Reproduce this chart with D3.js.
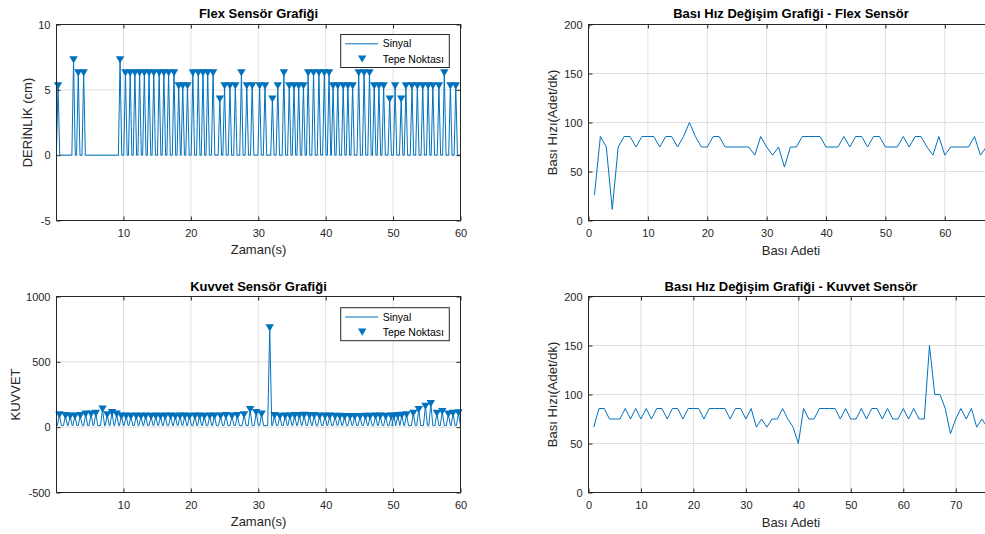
<!DOCTYPE html>
<html>
<head>
<meta charset="utf-8">
<script src="https://d3js.org/d3.v7.min.js"></script>
<style>
  body { margin: 0; background: #fff; }
  text { font-family: "Liberation Sans", Arial, Helvetica, sans-serif; }
</style>
</head>
<body>
<svg width="985" height="534"></svg>
<script>
// ---- data ----

// flex sensor: peak times (s) and peak depth (cm)
const flexPeakTimes = [
  0.3, 2.6, 3.3, 4.1, 9.5,
  10.3, 11.0, 11.7, 12.4, 13.1, 13.8, 14.5, 15.3, 16.0, 16.7, 17.5,
  18.2, 18.8, 19.5,
  20.3, 21.1, 21.8, 22.5, 23.3,
  24.3,
  25.0, 25.8, 26.6,
  27.5,
  28.3, 29.1, 30.2, 31.0,
  32.1, 32.9, 33.8,
  34.6, 35.3, 36.0, 36.7,
  37.4, 38.2, 39.0, 39.8, 40.5,
  41.1, 41.8, 42.6, 43.3, 44.0,
  44.9, 45.7, 46.5,
  47.2, 47.9, 48.6,
  49.5, 50.3, 51.2,
  51.9, 52.8, 53.6, 54.4, 55.2, 55.9, 56.8,
  57.6, 58.5, 59.3
];
const flexPeakValues = [
  5.3, 7.3, 6.3, 6.3, 7.3,
  6.3, 6.3, 6.3, 6.3, 6.3, 6.3, 6.3, 6.3, 6.3, 6.3, 6.3,
  5.3, 5.3, 5.3,
  6.3, 6.3, 6.3, 6.3, 6.3,
  4.3,
  5.3, 5.3, 5.3,
  6.3,
  5.3, 5.3, 5.3, 5.3,
  4.3, 5.3, 6.3,
  5.3, 5.3, 5.3, 5.3,
  6.3, 6.3, 6.3, 6.3, 6.3,
  5.3, 5.3, 5.3, 5.3, 5.3,
  6.3, 6.3, 6.3,
  5.3, 5.3, 5.3,
  4.3, 5.3, 4.3,
  5.3, 5.3, 5.3, 5.3, 5.3, 5.3, 5.3,
  6.3, 5.3, 5.3
];
const flexBase = 0;

// force sensor: peak times (s) and peak force
const kuvvetPeakTimes = [
  0.5, 1.4, 2.1, 2.8, 3.6, 4.4, 5.2, 5.9, 6.9, 7.6,
  8.3, 9.0, 9.7, 10.4, 11.1, 11.9, 12.6, 13.3, 14.1, 14.8,
  15.5, 16.2, 17.0, 17.7, 18.4, 19.1, 19.8, 20.6, 21.3, 22.0,
  22.8, 23.5, 24.4, 25.2, 26.1, 26.9, 27.9, 28.8, 29.7, 30.5,
  31.7, 32.4, 33.2, 34.0, 34.7, 35.4, 36.1, 36.8, 37.6, 38.3,
  39.1, 39.9, 40.6, 41.4, 42.1, 42.8, 43.6, 44.3, 45.1, 45.9,
  46.6, 47.4, 48.1, 48.9, 49.7, 50.1, 50.7, 51.3, 52.0, 53.0,
  53.8, 54.8, 55.6, 56.5, 57.3, 58.2, 58.9, 59.7
];
const kuvvetPeakValues = [
  95, 88, 85, 85, 88, 100, 100, 105, 138, 95,
  112, 100, 85, 85, 82, 85, 82, 85, 82, 85,
  82, 85, 85, 82, 85, 85, 82, 85, 85, 82,
  85, 85, 85, 88, 85, 88, 95, 135, 112, 100,
  760, 88, 82, 85, 85, 88, 88, 90, 88, 88,
  85, 85, 85, 82, 82, 80, 80, 80, 80, 82,
  82, 85, 85, 82, 85, 85, 88, 90, 95, 105,
  135, 160, 180, 105, 120, 100, 105, 110
];
const kuvvetBase = 12;

// press rate (presses/min) per press index
const flexRate = [
  26.1, 85.7, 75, 11.3, 75, 85.7, 85.7, 75, 85.7, 85.7,
  85.7, 75, 85.7, 85.7, 75, 85.7, 100, 85.7, 75, 75,
  85.7, 85.7, 75, 75, 75, 75, 75, 66.7, 85.7, 75,
  66.7, 75, 54.5, 75, 75, 85.7, 85.7, 85.7, 85.7, 75,
  75, 75, 85.7, 75, 85.7, 85.7, 75, 85.7, 85.7, 75,
  75, 75, 85.7, 75, 85.7, 85.7, 75, 66.7, 85.7, 66.7,
  75, 75, 75, 75, 85.7, 66.7, 75
];
const kuvvetRate = [
  66.7, 85.7, 85.7, 75, 75, 75, 85.7, 75, 85.7, 75,
  85.7, 75, 85.7, 85.7, 75, 85.7, 85.7, 75, 85.7, 85.7,
  85.7, 75, 85.7, 85.7, 85.7, 85.7, 75, 85.7, 85.7, 75,
  85.7, 66.7, 75, 66.7, 75, 75, 85.7, 75, 66.7, 50,
  85.7, 75, 75, 85.7, 85.7, 85.7, 85.7, 75, 85.7, 75,
  75, 85.7, 75, 85.7, 85.7, 75, 85.7, 75, 75, 85.7,
  75, 85.7, 75, 75, 150, 100, 100, 85.7, 60, 75,
  85.7, 75, 85.7, 66.7, 75, 66.7
];

// tick labels
const timeTicks = [10, 20, 30, 40, 50, 60];
const flexYTicks = [-5, 0, 5, 10];
const kuvvetYTicks = [-500, 0, 500, 1000];
const flexRateXTicks = [0, 10, 20, 30, 40, 50, 60];
const kuvvetRateXTicks = [0, 10, 20, 30, 40, 50, 60, 70];
const rateYTicks = [0, 50, 100, 150, 200];

// ---- drawing ----
var svg = d3.select("svg");
var blue = "#0072BD",
    axisColor = "#262626",
    gridColor = "#dfdfdf";

// downward triangle marker
var triangle = "M-4.2,-3.6L4.2,-3.6L0,3.6Z";

// plain numbers, ascii minus, no thousands separator
var plainFormat = d => String(d);

function makePanel(opt) {
    var x = d3.scaleLinear().domain(opt.xDomain).range([opt.left, opt.right]);
    var y = d3.scaleLinear().domain(opt.yDomain).range([opt.bottom, opt.top]);

    var g = svg.append("g");
    var gridG = g.append("g");
    var plotG = g.append("g").attr("clip-path", "url(#clip-" + opt.id + ")");
    var markG = g.append("g");
    var axesG = g.append("g");

    svg.append("clipPath").attr("id", "clip-" + opt.id)
        .append("rect")
        .attr("x", opt.left).attr("y", opt.top)
        .attr("width", opt.right - opt.left)
        .attr("height", opt.bottom - opt.top);

    // grid
    gridG.selectAll(".gx").data(opt.xTicks).enter().append("line")
        .attr("x1", d => x(d)).attr("x2", d => x(d))
        .attr("y1", opt.top).attr("y2", opt.bottom)
        .attr("stroke", gridColor);
    gridG.selectAll(".gy").data(opt.yTicks).enter().append("line")
        .attr("x1", opt.left).attr("x2", opt.right)
        .attr("y1", d => y(d)).attr("y2", d => y(d))
        .attr("stroke", gridColor);

    // axes, ticks pointing inward
    axesG.append("g").attr("transform", "translate(0," + opt.bottom + ")")
        .call(d3.axisBottom(x).tickValues(opt.xTicks).tickFormat(plainFormat)
            .tickSizeInner(-4).tickSizeOuter(0).tickPadding(9));
    axesG.append("g").attr("transform", "translate(0," + opt.top + ")")
        .call(d3.axisTop(x).tickValues(opt.xTicks).tickSizeInner(-4).tickSizeOuter(0).tickFormat(""));
    axesG.append("g").attr("transform", "translate(" + opt.left + ",0)")
        .call(d3.axisLeft(y).tickValues(opt.yTicks).tickFormat(plainFormat)
            .tickSizeInner(-4).tickSizeOuter(0).tickPadding(6));
    axesG.append("g").attr("transform", "translate(" + opt.right + ",0)")
        .call(d3.axisRight(y).tickValues(opt.yTicks).tickSizeInner(-4).tickSizeOuter(0).tickFormat(""));

    axesG.selectAll(".domain").remove();
    axesG.selectAll(".tick line").attr("stroke", axisColor);
    axesG.selectAll(".tick text")
        .attr("fill", axisColor)
        .style("font-size", "11px")
        .style("font-family", "'Liberation Sans', Arial, sans-serif");

    axesG.append("rect")
        .attr("x", opt.left).attr("y", opt.top)
        .attr("width", opt.right - opt.left)
        .attr("height", opt.bottom - opt.top)
        .attr("fill", "none")
        .attr("stroke", axisColor);

    // title and labels
    var cx = (opt.left + opt.right) / 2;
    axesG.append("text")
        .attr("x", cx).attr("y", opt.titleY)
        .attr("text-anchor", "middle")
        .style("font-size", "13px").style("font-weight", "bold")
        .attr("fill", "#000")
        .text(opt.title);
    axesG.append("text")
        .attr("x", cx).attr("y", opt.xLabelY)
        .attr("text-anchor", "middle")
        .style("font-size", "13px")
        .attr("fill", axisColor)
        .text(opt.xLabel);
    axesG.append("text")
        .attr("transform", "translate(" + opt.yLabelX + "," + ((opt.top + opt.bottom) / 2) + ") rotate(-90)")
        .attr("text-anchor", "middle")
        .attr("dy", "0.36em")
        .style("font-size", "13px")
        .attr("fill", axisColor)
        .text(opt.yLabel);

    return { x: x, y: y, plot: plotG, marks: markG, axes: axesG, opt: opt };
}

// spike shaped signal: base level, up to each peak and back down
function spikeSignal(times, values, base, halfWidth, tEnd) {
    var pts = [[0, base]];
    times.forEach((t, i) => {
        pts.push([t - halfWidth, base], [t, values[i]], [t + halfWidth, base]);
    });
    pts.push([tEnd, base]);
    return pts;
}

function drawSensor(p, times, values, base, halfWidth) {
    var signal = spikeSignal(times, values, base, halfWidth, 60);
    var line = d3.line().x(d => p.x(d[0])).y(d => p.y(d[1]));
    p.plot.append("path")
        .datum(signal)
        .attr("d", line)
        .attr("fill", "none")
        .attr("stroke", blue)
        .attr("stroke-width", 1);

    p.marks.selectAll(".peak")
        .data(times)
        .enter().append("path")
        .attr("class", "peak")
        .attr("d", triangle)
        .attr("transform", (t, i) => "translate(" + p.x(t) + "," + p.y(values[i]) + ")")
        .attr("fill", blue);
}

function drawLegend(p, top) {
    var left = 340.7, w = 108.6, h = 33;
    var lg = p.axes.append("g");
    lg.append("rect")
        .attr("x", left).attr("y", top)
        .attr("width", w).attr("height", h)
        .attr("fill", "#fff")
        .attr("stroke", axisColor);
    lg.append("line")
        .attr("x1", left + 4.5).attr("x2", left + 37.5)
        .attr("y1", top + 9.3).attr("y2", top + 9.3)
        .attr("stroke", blue).attr("stroke-width", 1);
    lg.append("path")
        .attr("d", triangle)
        .attr("transform", "translate(" + (left + 21.5) + "," + (top + 24.5) + ")")
        .attr("fill", blue);
    lg.append("text")
        .attr("x", left + 42).attr("y", top + 9.3).attr("dy", "0.35em")
        .style("font-size", "10.5px").attr("fill", "#000")
        .text("Sinyal");
    lg.append("text")
        .attr("x", left + 42).attr("y", top + 24.7).attr("dy", "0.35em")
        .style("font-size", "10.5px").attr("fill", "#000")
        .text("Tepe Noktası");
}

function drawRate(p, rates) {
    var line = d3.line().x((d, i) => p.x(i + 1)).y(d => p.y(d));
    p.plot.append("path")
        .datum(rates)
        .attr("d", line)
        .attr("fill", "none")
        .attr("stroke", blue)
        .attr("stroke-width", 1);
}

// top left: flex sensor
var flexPanel = makePanel({
    id: "flex", left: 56.5, right: 460.5, top: 24.5, bottom: 220.5,
    xDomain: [0.07, 60], yDomain: [-5, 10],
    xTicks: timeTicks, yTicks: flexYTicks,
    title: "Flex Sensör Grafiği", titleY: 17.5,
    xLabel: "Zaman(s)", xLabelY: 254,
    yLabel: "DERİNLİK (cm)", yLabelX: 27
});
drawSensor(flexPanel, flexPeakTimes, flexPeakValues, flexBase, 0.25);
drawLegend(flexPanel, 34.5);

// bottom left: force sensor
var kuvvetPanel = makePanel({
    id: "kuvvet", left: 56.5, right: 460.5, top: 296.5, bottom: 492.5,
    xDomain: [0.07, 60], yDomain: [-500, 1000],
    xTicks: timeTicks, yTicks: kuvvetYTicks,
    title: "Kuvvet Sensör Grafiği", titleY: 290.5,
    xLabel: "Zaman(s)", xLabelY: 526,
    yLabel: "KUVVET", yLabelX: 15
});
drawSensor(kuvvetPanel, kuvvetPeakTimes, kuvvetPeakValues, kuvvetBase, 0.3);
drawLegend(kuvvetPanel, 307.7);

// top right: press rate, flex
var flexRatePanel = makePanel({
    id: "flexrate", left: 588.5, right: 993.5, top: 24.5, bottom: 220.5,
    xDomain: [0, 68.2], yDomain: [0, 200],
    xTicks: flexRateXTicks, yTicks: rateYTicks,
    title: "Bası Hız Değişim Grafiği - Flex Sensör", titleY: 18,
    xLabel: "Bası Adeti", xLabelY: 255,
    yLabel: "Bası Hızı(Adet/dk)", yLabelX: 552
});
drawRate(flexRatePanel, flexRate);

// bottom right: press rate, force
var kuvvetRatePanel = makePanel({
    id: "kuvvetrate", left: 588.5, right: 993.5, top: 296.5, bottom: 492.5,
    xDomain: [0, 77.2], yDomain: [0, 200],
    xTicks: kuvvetRateXTicks, yTicks: rateYTicks,
    title: "Bası Hız Değişim Grafiği - Kuvvet Sensör", titleY: 290.5,
    xLabel: "Bası Adeti", xLabelY: 527,
    yLabel: "Bası Hızı(Adet/dk)", yLabelX: 552
});
drawRate(kuvvetRatePanel, kuvvetRate);
</script>
</body>
</html>
